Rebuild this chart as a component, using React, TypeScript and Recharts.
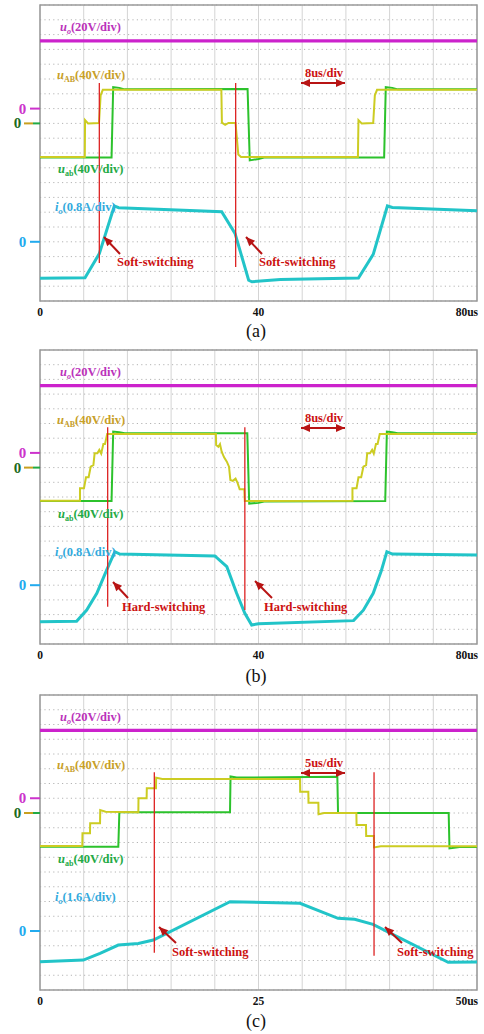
import { LineChart, Line, XAxis, YAxis, CartesianGrid, ReferenceLine, ReferenceArea } from 'recharts'

const SERIF = '"Liberation Serif", "Times New Roman", serif'

// channel zero levels, in grid rows counted up from the bottom of each screen (20 rows)
const ZERO_UO = 13
const ZERO_U = 12
const ZERO_I = 4

type Pt = [number, number] // [time us, rows above channel zero]

// (a) soft-switching, 8us/div
const aTicks = [0, 40, 80]
const aTickText = ['0', '40', '80us']
const aUo: Pt[] = [[0, 4.57], [80, 4.57]]
const aUAB: Pt[] = [
  [0, -2.27], [8.2, -2.27], [8.25, 0.22], [8.8, 0.0], [10.8, 0.02], [11.1, 1.9], [11.5, 2.27],
  [33.2, 2.27], [33.3, 0.05], [33.9, -0.1], [34.5, 0.03], [35.8, 0.03], [36.3, -2.1], [36.8, -2.27],
  [58.2, -2.27], [58.3, 0.22], [58.9, 0.0], [61.0, 0.02], [61.3, 1.9], [61.7, 2.27], [80, 2.27],
]
const aUab: Pt[] = [
  [0, -2.3], [13.1, -2.3], [13.4, 2.45], [14.5, 2.4], [15.5, 2.3], [38.0, 2.32], [38.4, -2.5],
  [40, -2.4], [41, -2.3], [63.0, -2.3], [63.3, 2.45], [64.5, 2.4], [65.5, 2.3], [80, 2.3],
]
const aIo: Pt[] = [
  [0, -2.47], [8.24, -2.43], [10.86, -0.8], [13.6, 2.42], [14.4, 2.3], [33.26, 2.03], [35.7, 0.57],
  [38.2, -2.6], [38.8, -2.7], [44, -2.55], [58.3, -2.45], [61.0, -0.85], [63.6, 2.42], [64.5, 2.32], [80, 2.1],
]
const aSwitch: [number, number, number][] = [[10.86, 14.73, 2.57], [35.82, 14.73, 2.3]]

// (b) hard-switching, 8us/div
const bTicks = [0, 40, 80]
const bTickText = ['0', '40', '80us']
const bUo: Pt[] = [[0, 4.57], [80, 4.57]]
const bUAB: Pt[] = [
  [0, -2.25], [7.32, -2.25], [7.32, -1.41], [8.05, -1.41], [8.42, -0.66], [8.9, -0.66], [9.28, 0.06],
  [9.77, 0.16], [10.0, 0.97], [10.5, 0.97], [10.86, 1.2], [11.2, 0.95], [11.6, 1.6], [11.9, 1.6], [12.3, 2.29],
  [32.2, 2.29], [32.25, 1.54], [32.65, 1.42], [32.95, 1.6], [33.26, 1.08], [33.7, 0.7], [34.2, 0.4], [34.6, 0.06],
  [34.85, -0.84], [35.3, -0.9], [35.8, -0.75], [36.2, -1.07], [36.55, -1.48], [37.4, -1.48], [37.5, -2.27],
  [57.2, -2.25], [57.2, -1.41], [57.95, -1.41], [58.3, -0.66], [58.8, -0.66], [59.2, 0.06], [59.7, 0.16],
  [59.9, 0.97], [60.4, 0.97], [60.8, 1.2], [61.1, 0.95], [61.5, 1.6], [61.8, 1.6], [62.2, 2.29], [80, 2.29],
]
const bUab: Pt[] = [
  [0, -2.27], [13.1, -2.27], [13.4, 2.45], [14.5, 2.4], [15.5, 2.33], [37.95, 2.33], [38.3, -2.45],
  [40, -2.4], [41, -2.3], [63.2, -2.27], [63.5, 2.45], [64.5, 2.4], [65.5, 2.33], [80, 2.33],
]
const bIo: Pt[] = [
  [0, -2.48], [6.7, -2.45], [8.55, -1.69], [10.4, -0.55], [12.2, 1.03], [13.7, 2.28], [14.6, 2.12],
  [32.0, 1.99], [34.2, 1.26], [36.0, -0.55], [37.5, -1.91], [38.75, -2.71], [40, -2.62], [57.4, -2.41],
  [59.2, -1.7], [61.0, -0.55], [62.5, 1.0], [63.5, 2.28], [64.5, 2.12], [80, 2.05],
]
const bSwitch: [number, number, number][] = [[12.39, 14.74, 2.54], [37.5, 14.74, 2.31]]

// (c) soft-switching, 5us/div
const cTicks = [0, 25, 50]
const cTickText = ['0', '25', '50us']
const cUo: Pt[] = [[0, 4.6], [50, 4.6]]
const cUAB: Pt[] = [
  [0, -2.24], [4.84, -2.24], [4.86, -1.38], [5.72, -1.38], [5.74, -0.7], [6.87, -0.7], [6.89, 0.2],
  [7.5, 0.08], [11.25, 0.05], [11.27, 1.0], [12.2, 1.0], [12.22, 1.67], [13.27, 1.67], [13.29, 2.39],
  [14, 2.3], [29.75, 2.3], [29.77, 1.44], [30.7, 1.44], [30.72, 0.7], [31.85, 0.7], [31.87, -0.08],
  [32.5, 0.0], [36.2, 0.0], [36.22, -0.81], [37.3, -0.81], [37.32, -1.56], [38.2, -1.56], [38.22, -2.33],
  [39, -2.25], [50, -2.25],
]
const cUab: Pt[] = [
  [0, -2.28], [8.96, -2.28], [9.08, 0.05], [21.74, 0.05], [21.8, 2.48], [22.5, 2.4], [34.02, 2.45],
  [34.1, 0.0], [46.76, 0.0], [46.85, -2.4], [48, -2.3], [50, -2.3],
]
const cIo: Pt[] = [
  [0, -2.08], [4.96, -1.97], [6.87, -1.51], [8.96, -0.95], [11.25, -0.84], [12.97, -0.61],
  [21.74, 1.99], [29.75, 1.88], [34.1, 0.86], [36.0, 0.79], [38.1, 0.45], [46.7, -2.12], [50, -2.1],
]
const cSwitch: [number, number, number][] = [[13.08, 14.76, 2.53], [38.22, 14.76, 2.33]]

const toRows = (pts: Pt[], zero: number) => pts.map(([t, v]) => ({ t, v: v + zero }))

const ROWS = Array.from({ length: 21 }, (_, i) => i)

function ZeroTick(props: any) {
  const { y, payload } = props
  const v = payload.value
  if (v === ZERO_UO)
    return (
      <g>
        <text x={22.5} y={y + 5} textAnchor="middle" fill="#cc33cc" fontFamily={SERIF} fontWeight="bold" fontSize={15}>0</text>
        <line x1={30} x2={40} y1={y} y2={y} stroke="#cc33cc" strokeWidth={2} />
      </g>
    )
  if (v === ZERO_U)
    return (
      <g>
        <text x={17.5} y={y + 5} textAnchor="middle" fill="#1d6b1d" fontFamily={SERIF} fontWeight="bold" fontSize={15}>0</text>
        <line x1={24} x2={33} y1={y} y2={y} stroke="#c8a020" strokeWidth={2} />
        <line x1={33} x2={40} y1={y} y2={y} stroke="#22aa44" strokeWidth={2} />
      </g>
    )
  if (v === ZERO_I)
    return (
      <g>
        <text x={22.5} y={y + 5} textAnchor="middle" fill="#22aaee" fontFamily={SERIF} fontWeight="bold" fontSize={15}>0</text>
        <line x1={30} x2={40} y1={y} y2={y} stroke="#22aaee" strokeWidth={2} />
      </g>
    )
  return <g />
}

type PanelProps = {
  top: number
  h: number
  xMax: number
  ticks: number[]
  tickText: string[]
  uo: Pt[]
  uAB: Pt[]
  uab: Pt[]
  io: Pt[]
  switches: [number, number, number][]
}

function Panel({ top, h, xMax, ticks, tickText, uo, uAB, uab, io, switches }: PanelProps) {
  const divTicks = Array.from({ length: 11 }, (_, i) => (xMax / 10) * i)
  const XTick = (props: any) => {
    const { x, payload } = props
    const i = ticks.indexOf(payload.value)
    if (i < 0) return <g />
    const anchor = i === ticks.length - 1 ? 'end' : 'middle'
    return (
      <text x={anchor === 'end' ? x + 1 : x} y={5 + h + 15} textAnchor={anchor} fill="#111" fontFamily={SERIF} fontWeight="bold" fontSize={11.5}>
        {tickText[i]}
      </text>
    )
  }
  return (
    <div style={{ position: 'absolute', left: 0, top: top - 5 }}>
      <LineChart width={484} height={h + 25} margin={{ top: 5, right: 7, bottom: 0, left: 0 }}>
        <CartesianGrid horizontal={false} stroke="#d4d4d4" strokeWidth={1} />
        <CartesianGrid vertical={false} stroke="#b4b4b4" strokeDasharray="1.2 3.2" strokeWidth={1} />
        <XAxis type="number" dataKey="t" domain={[0, xMax]} ticks={divTicks} interval={0} axisLine={false} tickLine={false} height={20} tick={XTick} />
        <YAxis type="number" domain={[0, 20]} ticks={ROWS} interval={0} width={40} axisLine={false} tickLine={false} tick={ZeroTick} />
        <ReferenceArea x1={0} x2={xMax} y1={0} y2={20} fill="none" fillOpacity={0} stroke="#9a9a9a" strokeWidth={1.5} />
        <Line data={toRows(uo, ZERO_UO)} dataKey="v" type="linear" stroke="#cc22cc" strokeWidth={3.2} dot={false} activeDot={false} isAnimationActive={false} />
        <Line data={toRows(uab, ZERO_U)} dataKey="v" type="linear" stroke="#2cc22c" strokeWidth={2} dot={false} activeDot={false} isAnimationActive={false} />
        <Line data={toRows(uAB, ZERO_U)} dataKey="v" type="linear" stroke="#cccc22" strokeWidth={2} dot={false} activeDot={false} isAnimationActive={false} />
        <Line data={toRows(io, ZERO_I)} dataKey="v" type="linear" stroke="#22c4c8" strokeWidth={3} dot={false} activeDot={false} isAnimationActive={false} />
        {switches.map(([t, y1, y2]) => (
          <ReferenceLine key={'s' + t} segment={[{ x: t, y: y1 }, { x: t, y: y2 }]} stroke="#dd2222" strokeWidth={1.3} />
        ))}
      </LineChart>
    </div>
  )
}

function headPts(hx: number, hy: number, fx: number, fy: number, len: number, wid: number) {
  const dx = hx - fx
  const dy = hy - fy
  const L = Math.hypot(dx, dy)
  const ux = dx / L
  const uy = dy / L
  const bx = hx - ux * len
  const by = hy - uy * len
  const px = (-uy * wid) / 2
  const py = (ux * wid) / 2
  return `${hx},${hy} ${bx + px},${by + py} ${bx - px},${by - py}`
}

function Arrow({ x1, y1, x2, y2, both = false }: { x1: number; y1: number; x2: number; y2: number; both?: boolean }) {
  return (
    <g>
      <line x1={x1} y1={y1} x2={x2} y2={y2} stroke="#b81414" strokeWidth={2} />
      <polygon points={headPts(x2, y2, x1, y1, 9, 8)} fill="#b81414" />
      {both && <polygon points={headPts(x1, y1, x2, y2, 9, 8)} fill="#b81414" />}
    </g>
  )
}

function ChanLabel({ x, y, sym, sub, rest, color, italicSub = false }: any) {
  return (
    <text x={x} y={y} fill={color} fontFamily={SERIF} fontWeight="bold" fontSize={12.5}>
      <tspan fontStyle="italic">{sym}</tspan>
      <tspan fontSize={8} dy={3} fontStyle={italicSub ? 'italic' : 'normal'}>{sub}</tspan>
      <tspan dy={-3}>{rest}</tspan>
    </text>
  )
}

function Note({ x, y, text, anchor = 'start' }: any) {
  return (
    <text x={x} y={y} textAnchor={anchor} fill="#cc1111" fontFamily={SERIF} fontWeight="bold" fontSize={12.5}>{text}</text>
  )
}

function Labels({ top, ioScale, unit, notes, arrows, caption }: any) {
  return (
    <g>
      <ChanLabel x={60} y={top + 26} sym="u" sub="o" rest="(20V/div)" color="#bb33bb" italicSub />
      <ChanLabel x={57} y={top + 73.5} sym="u" sub="AB" rest="(40V/div)" color="#c8a028" />
      <ChanLabel x={58} y={top + 168} sym="u" sub="ab" rest="(40V/div)" color="#22aa44" />
      <ChanLabel x={55} y={top + 206} sym="i" sub="o" rest={ioScale} color="#33aadd" italicSub />
      <Note x={324} y={top + 72} text={unit} anchor="middle" />
      <Arrow x1={301} y1={top + 78} x2={345} y2={top + 78} both />
      {notes.map((n: any, i: number) => (
        <Note key={i} x={n[0]} y={top + 261} text={n[1]} />
      ))}
      {arrows.map((a: number[], i: number) => (
        <Arrow key={'a' + i} x1={a[0]} y1={top + a[1]} x2={a[2]} y2={top + a[3]} />
      ))}
      <text x={256} y={top + 332} textAnchor="middle" fill="#111" fontFamily={SERIF} fontSize={18}>{caption}</text>
    </g>
  )
}

export default function App() {
  return (
    <div style={{ position: 'absolute', left: 0, top: 0, width: 484, height: 1034, background: '#fff' }}>
      <Panel top={5} h={296} xMax={80} ticks={aTicks} tickText={aTickText} uo={aUo} uAB={aUAB} uab={aUab} io={aIo} switches={aSwitch} />
      <Panel top={350} h={294} xMax={80} ticks={bTicks} tickText={bTickText} uo={bUo} uAB={bUAB} uab={bUab} io={bIo} switches={bSwitch} />
      <Panel top={695} h={295} xMax={50} ticks={cTicks} tickText={cTickText} uo={cUo} uAB={cUAB} uab={cUab} io={cIo} switches={cSwitch} />
      <svg width={484} height={1034} style={{ position: 'absolute', left: 0, top: 0, pointerEvents: 'none' }}>
        <Labels top={5} ioScale="(0.8A/div)" unit="8us/div" caption="(a)"
          notes={[[117, 'Soft-switching'], [259, 'Soft-switching']]}
          arrows={[[120, 249, 104, 232], [262, 249, 246, 232]]} />
        <Labels top={350} ioScale="(0.8A/div)" unit="8us/div" caption="(b)"
          notes={[[122, 'Hard-switching'], [264, 'Hard-switching']]}
          arrows={[[128, 248, 113, 232], [272, 248, 255, 231]]} />
        <Labels top={695} ioScale="(1.6A/div)" unit="5us/div" caption="(c)"
          notes={[[172, 'Soft-switching'], [397, 'Soft-switching']]}
          arrows={[[176, 248, 159, 232], [402, 248, 385, 232]]} />
      </svg>
    </div>
  )
}
